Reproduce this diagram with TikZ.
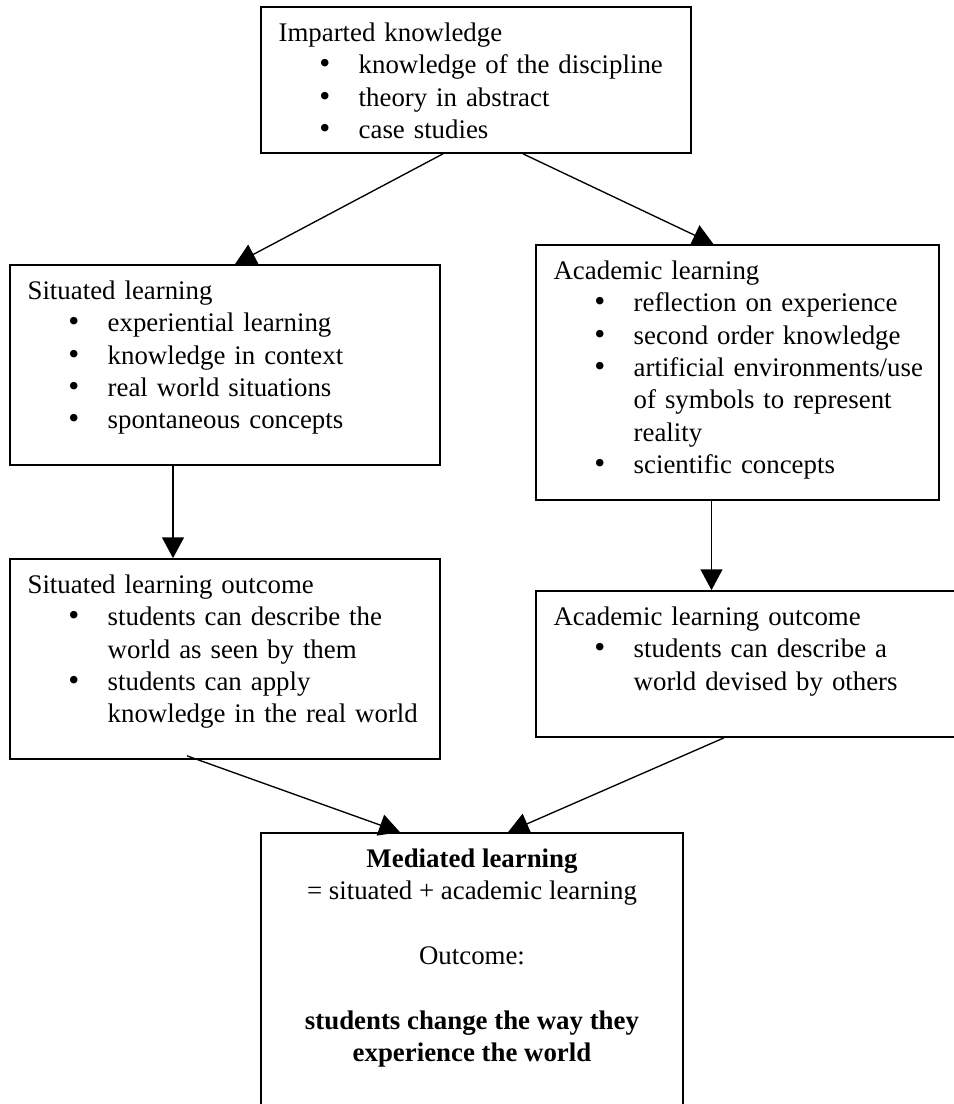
\documentclass[tikz,border=0pt]{standalone}
\usepackage{fontspec}
\setmainfont{Liberation Serif}
\usetikzlibrary{arrows.meta,fit}
\newcommand{\bitem}[1]{\par{\leftskip=35.8pt\noindent\llap{{\fontsize{14}{14}\selectfont\textbullet}\hspace{12.7pt}}#1\par}}
\begin{document}
\begin{tikzpicture}[x=0.447pt, y=-0.447pt, font=\fontsize{12}{14.5}\selectfont,
	frame/.style={draw, line width=0.75pt, inner sep=0pt},
	txt/.style={anchor=north west, inner sep=0pt, text width=180pt, align=left},
	link/.style={->, line width=0.6pt},
	>={Triangle[width=9.8pt, length=9.3pt]}]
	\useasboundingbox (0,0) rectangle (953,1104);
	% frames
	\node[frame, fit={(261,7) (691,153)}] (imp) {};
	\node[frame, fit={(10,265) (440,465)}] (sit) {};
	\node[frame, fit={(536,245) (939,500)}] (aca) {};
	\node[frame, fit={(10,559) (440,759)}] (sitout) {};
	\node[frame, fit={(536,591) (990,737)}] (acaout) {};
	\node[frame, fit={(261,833) (683,1140)}] (med) {};
	% texts
	\node[txt] (impt) at ([shift={(18,16)}]imp.north west) {Imparted knowledge
		\bitem{knowledge of the discipline}
		\bitem{theory in abstract}
		\bitem{case studies}};
	\node[txt] (sitt) at ([shift={(18,16)}]sit.north west) {Situated learning
		\bitem{experiential learning}
		\bitem{knowledge in context}
		\bitem{real world situations}
		\bitem{spontaneous concepts}};
	\node[txt] (acat) at ([shift={(18,16)}]aca.north west) {Academic learning
		\bitem{reflection on experience}
		\bitem{second order knowledge}
		\bitem{artificial environments/use\\ of symbols to represent\\ reality}
		\bitem{scientific concepts}};
	\node[txt] (sitoutt) at ([shift={(18,16)}]sitout.north west) {Situated learning outcome
		\bitem{students can describe the\\ world as seen by them}
		\bitem{students can apply\\ knowledge in the real world}};
	\node[txt] (acaoutt) at ([shift={(18,16)}]acaout.north west) {Academic learning outcome
		\bitem{students can describe a\\ world devised by others}};
	\node[anchor=north, inner sep=0pt, align=center] (medt) at ([shift={(0,16)}]med.north) {\textbf{Mediated learning}\\
		= situated + academic learning\\[14.5pt]
		Outcome:\\[14.5pt]
		\textbf{students change the way they}\\
		\textbf{experience the world}};
	% arrows
	\coordinate (acadown) at ([shift={(-26,0)}]aca.south);
	\draw[link] ([shift={(-33,0)}]imp.south) -- ([shift={(10,0)}]sit.north);
	\draw[link] ([shift={(47,0)}]imp.south) -- ([shift={(-24,0)}]aca.north);
	\draw[link] ([shift={(-52,0)}]sit.south) -- ([shift={(-52,0)}]sitout.north);
	\draw[link] (acadown) -- (acadown |- acaout.north);
	\draw[link] ([shift={(-38,-4)}]sitout.south) -- ([shift={(-72,0)}]med.north);
	\draw[link] ([shift={(-39,0)}]acaout.south) -- ([shift={(36,0)}]med.north);
\end{tikzpicture}
\end{document}
